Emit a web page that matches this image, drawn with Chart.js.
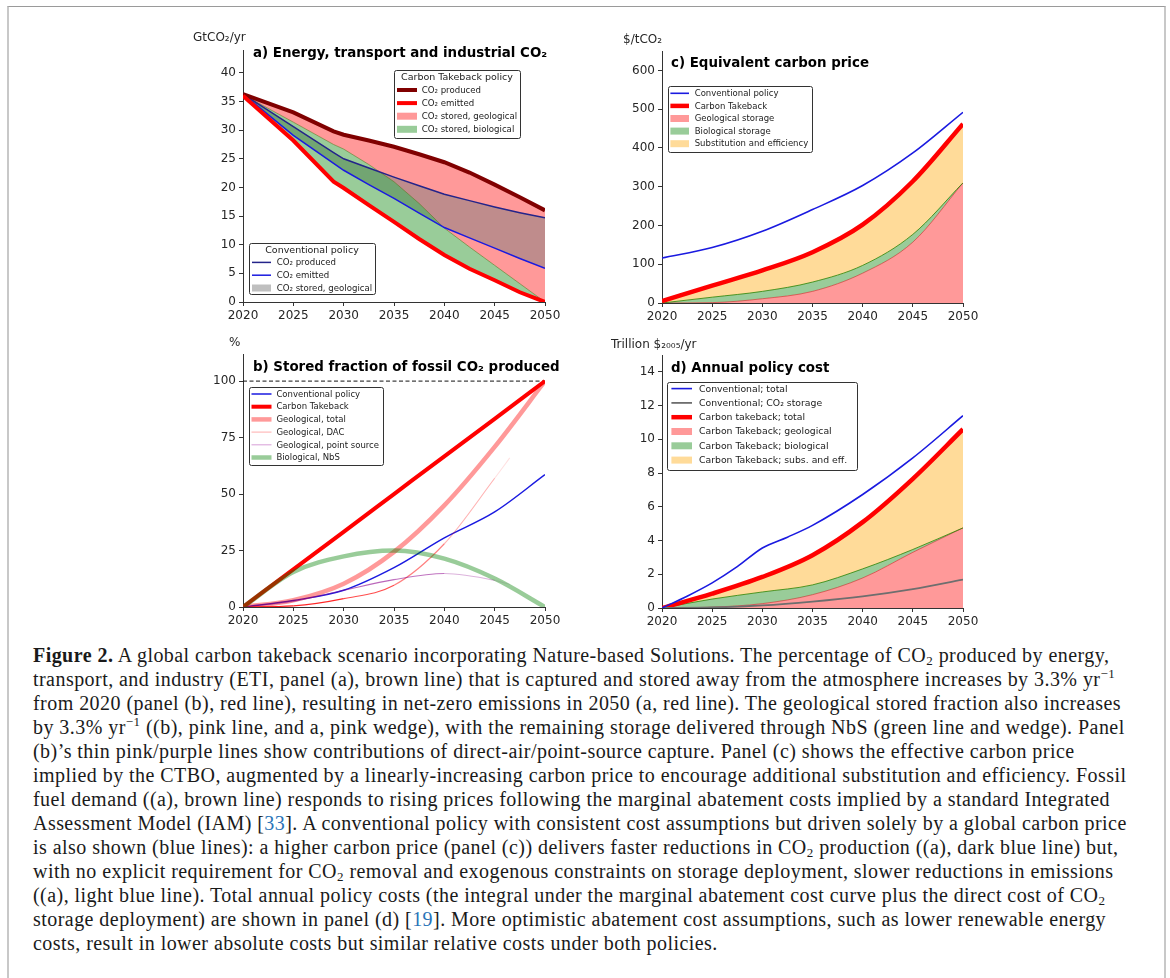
<!DOCTYPE html>
<html>
<head>
<meta charset="utf-8">
<script src="https://cdn.jsdelivr.net/npm/chart.js@4.4.1/dist/chart.umd.min.js"></script>
<style>
  body { margin: 0; background: #fff; width: 1170px; height: 978px; position: relative; overflow: hidden; }
  .frame { position: absolute; left: 7px; top: 6px; width: 1155px; height: 990px;
           border-top: 1px solid #9a9a9a; border-left: 2px solid #c8c8c8; border-right: 2px solid #c8c8c8; }
  canvas { position: absolute; }
  .caption { position: absolute; left: 33px; top: 643px; white-space: nowrap;
             font-family: 'Liberation Serif', serif; font-size: 20px; line-height: 24px;
             letter-spacing: 0.45px; color: #1a1a1a; }
  .caption sub { font-size: 13px; vertical-align: -3px; line-height: 0; }
  .caption sup { font-size: 13px; vertical-align: 8px; line-height: 0; }
  .ref { color: #2a74b8; }
</style>
</head>
<body>
<div class="frame"></div>
<canvas id="panel-a" width="400" height="300" style="left:180px; top:25px;"></canvas>
<canvas id="panel-b" width="400" height="300" style="left:180px; top:330px;"></canvas>
<canvas id="panel-c" width="420" height="300" style="left:580px; top:25px;"></canvas>
<canvas id="panel-d" width="420" height="300" style="left:580px; top:330px;"></canvas>

<div class="caption">
<b>Figure 2.</b> A global carbon takeback scenario incorporating Nature-based Solutions. The percentage of CO<sub>2</sub> produced by energy,<br>
transport, and industry (ETI, panel (a), brown line) that is captured and stored away from the atmosphere increases by 3.3% yr<sup>−1</sup><br>
from 2020 (panel (b), red line), resulting in net-zero emissions in 2050 (a, red line). The geological stored fraction also increases<br>
by 3.3% yr<sup>−1</sup> ((b), pink line, and a, pink wedge), with the remaining storage delivered through NbS (green line and wedge). Panel<br>
(b)’s thin pink/purple lines show contributions of direct-air/point-source capture. Panel (c) shows the effective carbon price<br>
implied by the CTBO, augmented by a linearly-increasing carbon price to encourage additional substitution and efficiency. Fossil<br>
fuel demand ((a), brown line) responds to rising prices following the marginal abatement costs implied by a standard Integrated<br>
Assessment Model (IAM) [<span class="ref">33</span>]. A conventional policy with consistent cost assumptions but driven solely by a global carbon price<br>
is also shown (blue lines): a higher carbon price (panel (c)) delivers faster reductions in CO<sub>2</sub> production ((a), dark blue line) but,<br>
with no explicit requirement for CO<sub>2</sub> removal and exogenous constraints on storage deployment, slower reductions in emissions<br>
((a), light blue line). Total annual policy costs (the integral under the marginal abatement cost curve plus the direct cost of CO<sub>2</sub><br>
storage deployment) are shown in panel (d) [<span class="ref">19</span>]. More optimistic abatement cost assumptions, such as lower renewable energy<br>
costs, result in lower absolute costs but similar relative costs under both policies.
</div>

<script>
// ---- data ----
// panel a: GtCO2/yr
var aYears = [2020, 2025, 2029, 2030, 2032.5, 2035, 2037.5, 2040, 2042.5, 2045, 2047.5, 2050];
var ctProduced = [36.3, 33.1, 29.8, 29.2, 28.2, 27.1, 25.8, 24.4, 22.6, 20.5, 18.3, 16.0];
var ctGeoLower = [36.2, 31.4, 27.5, 26.7, 24.0, 21.0, 17.2, 12.9, 9.6, 6.4, 3.2, 0.0];
var ctEmitted = [36.0, 28.2, 21.0, 19.9, 16.9, 14.0, 11.0, 8.2, 5.8, 3.8, 1.7, 0.0];
var convProduced = [36.3, 30.6, 26.1, 25.0, 23.4, 21.8, 20.3, 18.8, 17.7, 16.6, 15.6, 14.7];
var convEmitted = [36.3, 29.1, 24.2, 23.0, 20.5, 18.1, 15.5, 13.0, 11.2, 9.4, 7.6, 5.9];

// panel b: % of fossil CO2 produced
var bYears = [2020, 2025, 2030, 2035, 2040, 2045, 2050];
var convFraction = [0, 2.9, 7.4, 17.4, 30.6, 42.1, 58.6];
var ctFraction = [0, 16.7, 33.3, 50.0, 66.7, 83.3, 100];
var geoTotal = [0, 3.0, 10.3, 24.4, 45.0, 70.9, 100];
var bPartYears = [2020, 2025, 2030, 2035, 2040, 2045, 2046.5];
var geoDAC = [0, 0.5, 3.7, 9.6, 28.0, 57.0, 66.0];
var geoPointSource = [0, 2.5, 7.4, 12.1, 14.8, 11.8, 10.0];
var bioNbS = [0, 15.5, 22.4, 25.0, 21.4, 12.6, 0];
var fullStorage = [100, 100];

// panel c: $/tCO2
var cYears = [2020, 2025, 2030, 2035, 2040, 2045, 2050];
var convPrice = [116, 143, 185, 241, 303, 387, 492];
var ctPrice = [5, 45, 84, 131, 202, 314, 462];
var bioPriceTop = [0, 15, 30, 54, 97, 177, 310];
var geoPrice = [0, 1, 11, 30, 77, 157, 310];

// panel d: trillion $2005/yr
var dYears = [2020, 2025, 2030, 2035, 2040, 2045, 2050];
var convCostYears = [2020, 2022.5, 2025, 2027.5, 2030, 2032.5, 2035, 2040, 2045, 2050];
var convCost = [0, 0.70, 1.49, 2.45, 3.56, 4.20, 4.90, 6.73, 8.90, 11.40];
var convStorageCost = [0, 0.03, 0.15, 0.38, 0.69, 1.12, 1.68];
var ctCost = [0, 0.85, 1.84, 3.13, 5.09, 7.66, 10.60];
var bioCostTop = [0, 0.53, 0.95, 1.37, 2.32, 3.47, 4.75];
var geoCost = [0, 0.05, 0.26, 0.79, 1.78, 3.30, 4.75];

// ---- colours ----
var RED = '#ff0000';
var DARKRED = '#800000';
var BLUE = '#1a1ae0';
var NAVY = '#24248a';
var PINK = 'rgba(255,0,0,0.4)';
var GREEN = 'rgba(0,128,0,0.4)';
var GREY = 'rgba(128,128,128,0.5)';
var YELLOW = 'rgba(255,165,0,0.4)';

Chart.defaults.font.family = "'DejaVu Sans', sans-serif";
Chart.defaults.color = '#262626';

function pts(xs, ys) {
    return xs.map(function (x, i) { return {x: x, y: ys[i]}; });
}

function axes(ymax, ystep, yWidth) {
    return {
        x: {
            type: 'linear', min: 2020, max: 2050,
            ticks: {stepSize: 5, color: '#262626', font: {size: 12}, padding: 3, maxRotation: 0,
                    includeBounds: false, callback: function (v) { return String(v); }},
            grid: {drawOnChartArea: false, color: '#333', tickLength: 4},
            border: {color: '#333'},
            afterFit: function (s) { s.height = 20; }
        },
        y: {
            type: 'linear', min: 0, max: ymax,
            ticks: {stepSize: ystep, color: '#262626', font: {size: 12}, padding: 3, includeBounds: false},
            grid: {drawOnChartArea: false, color: '#333', tickLength: 4},
            border: {color: '#333'},
            afterFit: function (s) { s.width = yWidth; }
        }
    };
}

function drawLegend(chart, lg) {
    var ctx = chart.ctx;
    ctx.save();
    ctx.beginPath();
    ctx.roundRect(lg.x + 0.5, lg.y + 0.5, lg.w, lg.h, 2);
    ctx.fillStyle = 'rgba(255,255,255,0.85)';
    ctx.fill();
    ctx.strokeStyle = '#333';
    ctx.lineWidth = 1;
    ctx.stroke();
    ctx.textBaseline = 'middle';
    ctx.fillStyle = '#222';
    if (lg.title) {
        ctx.font = '9.5px "DejaVu Sans"';
        ctx.textAlign = 'center';
        ctx.fillText(lg.title, lg.x + lg.w / 2, lg.y + 8);
    }
    ctx.textAlign = 'left';
    ctx.font = lg.font + 'px "DejaVu Sans"';
    lg.items.forEach(function (it, i) {
        var y = lg.y + lg.first + i * lg.step;
        var label = it.label;
        if (it.ds !== undefined) {
            var d = chart.data.datasets[it.ds];
            label = label || d.label;
            ctx.strokeStyle = it.color || d.borderColor;
            ctx.lineWidth = d.borderWidth;
            ctx.beginPath();
            ctx.moveTo(lg.x + lg.s0, y);
            ctx.lineTo(lg.x + lg.s1, y);
            ctx.stroke();
        } else {
            ctx.fillStyle = it.patch;
            ctx.fillRect(lg.x + lg.s0, y - 3.5, lg.s1 - lg.s0, 7);
        }
        ctx.fillStyle = '#222';
        ctx.fillText(label, lg.x + lg.tx, y + 0.5);
    });
    ctx.restore();
}

function decor(spec) {
    return {
        id: 'decor',
        afterDraw: function (chart) {
            var ctx = chart.ctx;
            ctx.save();
            ctx.textBaseline = 'middle';
            ctx.fillStyle = '#262626';
            ctx.font = '12px "DejaVu Sans"';
            ctx.fillText(spec.unit, spec.unitX, spec.unitY);
            ctx.fillStyle = '#000';
            ctx.font = 'bold 13.4px "DejaVu Sans"';
            ctx.fillText(spec.title, spec.titleX, spec.titleY);
            ctx.restore();
            spec.legends.forEach(function (lg) { drawLegend(chart, lg); });
        }
    };
}

function common(smooth) {
    return {
        responsive: false,
        animation: false,
        devicePixelRatio: 1,
        elements: {point: {radius: 0}, line: smooth ? {cubicInterpolationMode: 'monotone'} : {tension: 0}},
        plugins: {legend: {display: false}, tooltip: {enabled: false}, filler: {drawTime: 'beforeDatasetsDraw'}}
    };
}

// ---- panel a ----
new Chart(document.querySelector('#panel-a'), {
    type: 'line',
    data: {
        datasets: [
            {label: 'CO₂ produced', data: pts(aYears, ctProduced), borderColor: DARKRED, borderWidth: 4, fill: false, order: 1},
            {label: 'CO₂ stored, geological', data: pts(aYears, ctGeoLower), borderColor: 'rgba(90,110,20,0.7)', borderWidth: 0.8,
             backgroundColor: PINK, fill: 0, order: 4},
            {label: 'CO₂ emitted', data: pts(aYears, ctEmitted), borderColor: RED, borderWidth: 4,
             backgroundColor: GREEN, fill: 1, order: 0},
            {label: 'CO₂ produced', data: pts(aYears, convProduced), borderColor: NAVY, borderWidth: 1.5, fill: false, order: 2},
            {label: 'CO₂ emitted', data: pts(aYears, convEmitted), borderColor: BLUE, borderWidth: 1.5,
             backgroundColor: GREY, fill: 3, order: 3}
        ]
    },
    options: Object.assign(common(false), {
        layout: {padding: {left: 0, top: 25, right: 35, bottom: 3}},
        scales: axes(44, 5, 63)
    }),
    plugins: [decor({
        unit: 'GtCO₂/yr', unitX: 13, unitY: 13,
        title: 'a) Energy, transport and industrial CO₂', titleX: 73, titleY: 29,
        legends: [
            {title: 'Carbon Takeback policy', x: 214, y: 45, w: 126, h: 68, font: 8.6, first: 20, step: 13.1, s0: 3, s1: 23, tx: 27.7,
             items: [{ds: 0}, {ds: 2}, {patch: PINK, label: 'CO₂ stored, geological'}, {patch: GREEN, label: 'CO₂ stored, biological'}]},
            {title: 'Conventional policy', x: 69, y: 218, w: 126, h: 51, font: 8.6, first: 19.4, step: 12.8, s0: 3, s1: 22, tx: 27.7,
             items: [{ds: 3}, {ds: 4}, {patch: GREY, label: 'CO₂ stored, geological'}]}
        ]
    })]
});

// ---- panel b ----
var dacAlpha = [0.9, 0.85, 0.7, 0.5, 0.3, 0.12];
var psAlpha = [0.3, 0.5, 0.6, 0.55, 0.3, 0.12];
new Chart(document.querySelector('#panel-b'), {
    type: 'line',
    data: {
        datasets: [
            {label: 'Conventional policy', data: pts(bYears, convFraction), borderColor: BLUE, borderWidth: 1.5, order: 5},
            {label: 'Carbon Takeback', data: pts(bYears, ctFraction), borderColor: RED, borderWidth: 4, order: 4},
            {label: 'Geological, total', data: pts(bYears, geoTotal), borderColor: PINK, borderWidth: 4.5, order: 3},
            {label: 'Geological, DAC', data: pts(bPartYears, geoDAC), borderColor: 'rgba(255,0,0,0.3)', borderWidth: 1.1, order: 2,
             segment: {borderColor: function (c) { return 'rgba(255,0,0,' + dacAlpha[c.p0DataIndex] + ')'; }}},
            {label: 'Geological, point source', data: pts(bPartYears, geoPointSource), borderColor: 'rgba(150,0,150,0.35)', borderWidth: 1.1, order: 1,
             segment: {borderColor: function (c) { return 'rgba(140,0,140,' + psAlpha[c.p0DataIndex] + ')'; }}},
            {label: 'Biological, NbS', data: pts(bYears, bioNbS), borderColor: GREEN, borderWidth: 4.5, order: 0},
            {label: '', data: pts([2020, 2050], fullStorage), borderColor: '#111', borderWidth: 1, borderDash: [4, 2.5], order: 6}
        ]
    },
    options: Object.assign(common(true), {
        layout: {padding: {left: 0, top: 24, right: 35, bottom: 3}},
        scales: axes(112, 25, 63)
    }),
    plugins: [decor({
        unit: '%', unitX: 49, unitY: 13,
        title: 'b) Stored fraction of fossil CO₂ produced', titleX: 73, titleY: 38,
        legends: [
            {x: 69, y: 57, w: 134, h: 78, font: 8.5, first: 7, step: 12.7, s0: 2.5, s1: 22.5, tx: 27.4,
             items: [{ds: 0}, {ds: 1}, {ds: 2}, {ds: 3, color: 'rgba(255,0,0,0.3)'}, {ds: 4, color: 'rgba(150,0,150,0.35)'}, {ds: 5}]}
        ]
    })]
});

// ---- panel c ----
new Chart(document.querySelector('#panel-c'), {
    type: 'line',
    data: {
        datasets: [
            {label: 'Conventional policy', data: pts(cYears, convPrice), borderColor: BLUE, borderWidth: 1.6, fill: false, order: 0},
            {label: 'Carbon Takeback', data: pts(cYears, ctPrice), borderColor: RED, borderWidth: 4.5,
             backgroundColor: YELLOW, fill: 2, order: 1},
            {label: 'Biological storage', data: pts(cYears, bioPriceTop), borderColor: 'rgba(40,130,0,0.8)', borderWidth: 1,
             backgroundColor: GREEN, fill: 3, order: 2},
            {label: 'Geological storage', data: pts(cYears, geoPrice), borderColor: 'rgba(200,0,0,0.6)', borderWidth: 0.8,
             backgroundColor: PINK, fill: 'origin', order: 3}
        ]
    },
    options: Object.assign(common(true), {
        layout: {padding: {left: 0, top: 26, right: 37, bottom: 2}},
        scales: axes(650, 100, 82)
    }),
    plugins: [decor({
        unit: '$/tCO₂', unitX: 43, unitY: 15,
        title: 'c) Equivalent carbon price', titleX: 91, titleY: 39,
        legends: [
            {x: 88, y: 61, w: 144, h: 66, font: 8.5, first: 7.3, step: 12.6, s0: 2.4, s1: 21, tx: 26.7,
             items: [{ds: 0}, {ds: 1}, {patch: PINK, label: 'Geological storage'}, {patch: GREEN, label: 'Biological storage'},
                     {patch: YELLOW, label: 'Substitution and efficiency'}]}
        ]
    })]
});

// ---- panel d ----
new Chart(document.querySelector('#panel-d'), {
    type: 'line',
    data: {
        datasets: [
            {label: 'Conventional; total', data: pts(convCostYears, convCost), borderColor: BLUE, borderWidth: 1.6, fill: false, order: 0},
            {label: 'Conventional; CO₂ storage', data: pts(dYears, convStorageCost), borderColor: '#6e6e6e', borderWidth: 1.8, fill: false, order: 1},
            {label: 'Carbon takeback; total', data: pts(dYears, ctCost), borderColor: RED, borderWidth: 4.5,
             backgroundColor: YELLOW, fill: 3, order: 2},
            {label: 'Carbon Takeback; biological', data: pts(dYears, bioCostTop), borderColor: 'rgba(40,130,0,0.8)', borderWidth: 1,
             backgroundColor: GREEN, fill: 4, order: 3},
            {label: 'Carbon Takeback; geological', data: pts(dYears, geoCost), borderColor: 'rgba(200,0,0,0.6)', borderWidth: 0.8,
             backgroundColor: PINK, fill: 'origin', order: 4}
        ]
    },
    options: Object.assign(common(true), {
        layout: {padding: {left: 0, top: 25, right: 37, bottom: 2}},
        scales: axes(15, 2, 82)
    }),
    plugins: [decor({
        unit: 'Trillion $₂₀₀₅/yr', unitX: 31, unitY: 15,
        title: 'd) Annual policy cost', titleX: 91, titleY: 39,
        legends: [
            {x: 87, y: 52, w: 190, h: 88, font: 9.3, first: 6.6, step: 14.3, s0: 4.4, s1: 25, tx: 32,
             items: [{ds: 0}, {ds: 1}, {ds: 2}, {patch: PINK, label: 'Carbon Takeback; geological'},
                     {patch: GREEN, label: 'Carbon Takeback; biological'}, {patch: YELLOW, label: 'Carbon Takeback; subs. and eff.'}]}
        ]
    })]
});
</script>
</body>
</html>
